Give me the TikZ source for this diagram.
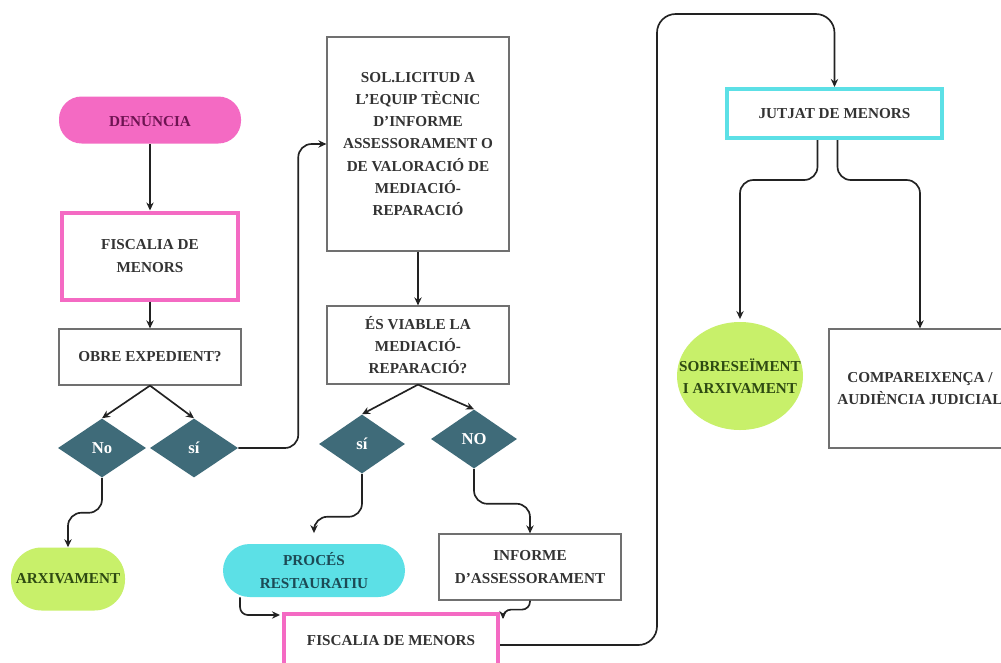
\documentclass[tikz,border=0pt]{standalone}
\usepackage{fontspec}
\setmainfont{Liberation Serif}
\usetikzlibrary{shapes.geometric,calc,arrows.meta}
\definecolor{pinkf}{HTML}{F46AC3}
\definecolor{pinkd}{HTML}{6E1452}
\definecolor{teald}{HTML}{3F6B79}
\definecolor{limef}{HTML}{C8F06A}
\definecolor{limed}{HTML}{2E4A12}
\definecolor{cyanf}{HTML}{5CE0E6}
\definecolor{cyand}{HTML}{1C4A55}
\definecolor{txt}{HTML}{333333}
\definecolor{boxg}{HTML}{707070}
\definecolor{lnk}{HTML}{222222}
\tikzset{
  base/.style={font=\bfseries\fontsize{11.4}{16.7}\selectfont, text=txt, align=center, inner sep=0pt},
  gbox/.style={base, draw=boxg, line width=0.9pt, fill=white},
  pinkbox/.style={base, draw=pinkf, line width=3pt, fill=white},
  cyanbox/.style={base, draw=cyanf, line width=3pt, fill=white},
  pill/.style={base, rounded corners=#1},
  dia/.style={base, diamond, fill=teald, text=white, font=\bfseries\fontsize{12.5}{14}\selectfont, minimum width=88*0.75pt, minimum height=59*0.75pt},
  arr/.style={draw=lnk, line width=1.25pt, -{Stealth[length=6pt,width=5.5pt]}, rounded corners=10pt},
}
\begin{document}
\begin{tikzpicture}[x=0.75pt,y=-0.75pt]
\useasboundingbox (0,0) rectangle (1001,662);
\clip (0,0) rectangle (1001,662);
\fill[white] (0,0) rectangle (1001,662);
% left column
\node[pill=17pt, fill=pinkf, text=pinkd, minimum width=182*0.75pt, minimum height=47*0.75pt] (den) at (150,120) {DENÚNCIA};
\node[pinkbox, minimum width=176*0.75pt, minimum height=87*0.75pt] (fis1) at (150,256) {FISCALIA DE\\MENORS};
\node[gbox, minimum width=182*0.75pt, minimum height=56*0.75pt] (obre) at (150,357) {OBRE EXPEDIENT?};
\node[dia] (no) at (102,448) {No};
\node[dia] (si1) at (194,448) {sí};
\node[pill=23pt, fill=limef, text=limed, minimum width=114*0.75pt, minimum height=63*0.75pt] (arx) at (68,579) {ARXIVAMENT};
% middle column
\node[gbox, minimum width=182*0.75pt, minimum height=214*0.75pt] (sol) at (418,144) {SOL.LICITUD A\\L’EQUIP TÈCNIC\\D’INFORME\\ASSESSORAMENT O\\DE VALORACIÓ DE\\MEDIACIÓ-\\REPARACIÓ};
\node[gbox, minimum width=182*0.75pt, minimum height=78*0.75pt] (via) at (418,345) {ÉS VIABLE LA\\MEDIACIÓ-\\REPARACIÓ?};
\node[dia, minimum width=86*0.75pt] (si2) at (362,444) {sí};
\node[dia, minimum width=86*0.75pt] (nod) at (474,439) {NO};
\node[pill=20pt, fill=cyanf, text=cyand, minimum width=182*0.75pt, minimum height=53*0.75pt] (proc) at (314,570.5) {PROCÉS\\RESTAURATIU};
\node[gbox, minimum width=182*0.75pt, minimum height=66*0.75pt] (inf) at (530,567) {INFORME\\D’ASSESSORAMENT};
\node[pinkbox, minimum width=214*0.75pt, minimum height=54*0.75pt] (fis2) at (391,641) {FISCALIA DE MENORS};
% right column
\node[cyanbox, minimum width=215*0.75pt, minimum height=49*0.75pt] (jut) at (834.5,113.5) {JUTJAT DE MENORS};
\node[base, ellipse, fill=limef, minimum width=126*0.75pt, minimum height=108*0.75pt,
      label={[base, text=limed]center:{SOBRESEÏMENT\\I ARXIVAMENT}}] (sob) at (740,376) {};
\node[gbox, minimum width=182*0.75pt, minimum height=119*0.75pt] (comp) at (920,388.5) {COMPAREIXENÇA /\\AUDIÈNCIA JUDICIAL};
% connectors
\draw[arr] (den.south) -- (fis1.north);
\draw[arr] (fis1.south) -- (obre.north);
\draw[arr, rounded corners=0pt] (obre.south) -- (no.north);
\draw[arr, rounded corners=0pt] (obre.south) -- (si1.north);
\draw[arr] (no.south) -- ++(0,35) -| (arx.north);
\draw[arr] (si1.east) -- ++(60,0) |- (sol.west);
\draw[arr] (sol.south) -- (via.north);
\draw[arr, rounded corners=0pt] (via.south) -- (si2.north);
\draw[arr, rounded corners=0pt] (via.south) -- (nod.north);
\draw[arr, shorten >=8pt] (si2.south) -- ++(0,43) -| (proc.north);
\draw[arr] (nod.south) -- ++(0,35) -| (inf.north);
\draw[arr, rounded corners=6pt] ($(proc.south)+(-74,0)$) |- ($(fis2.north west)+(-2,3)$);
\draw[arr, rounded corners=6pt] (inf.south) -- ++(0,9) -| ($(fis2.north east)+(3,7)$);
\draw[arr, rounded corners=14pt] ($(fis2.east)+(0,4)$) -- ++(157,0) |- ($(jut.north)+(0,-73)$) -- (jut.north);
\draw[arr, shorten >=2pt] ($(jut.south)+(-17,0)$) -- ++(0,40) -| (sob.north);
\draw[arr] ($(jut.south)+(3,0)$) -- ++(0,40) -| (comp.north);
\end{tikzpicture}
\end{document}
